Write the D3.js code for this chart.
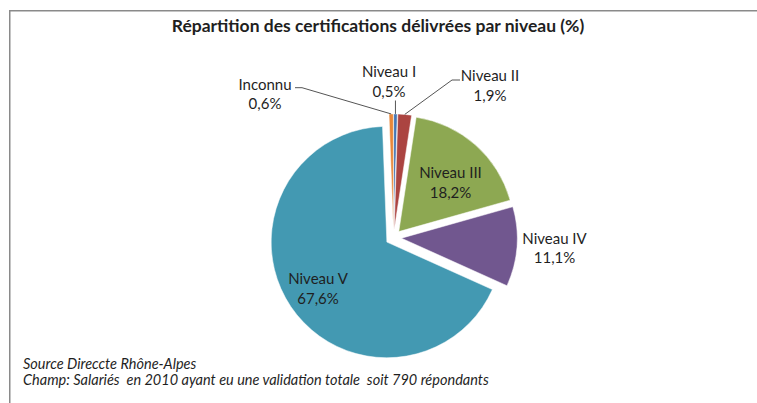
<!DOCTYPE html>
<html>
<head>
<meta charset="utf-8">
<script src="https://cdn.jsdelivr.net/npm/d3@7"></script>
<style>
  body { margin: 0; background: white; }
  text { font-family: Lato, "Liberation Sans", sans-serif; fill: #1f1f1f; }
</style>
</head>
<body>
<div id="container"></div>
<script>
// data, in Excel's order (clockwise from 12 o'clock)
const categories = ['Niveau I', 'Niveau II', 'Niveau III', 'Niveau IV', 'Niveau V', 'Inconnu']
const values = [0.5, 1.9, 18.2, 11.1, 67.6, 0.6]
const valueLabels = ['0,5%', '1,9%', '18,2%', '11,1%', '67,6%', '0,6%']
const colors = ['#4576b4', '#ab4441', '#8da852', '#71578f', '#4399b2', '#e8873a']

const titleText = 'Répartition des certifications délivrées par niveau (%)'
const footLines = [
  'Source Direccte Rhône-Alpes',
  'Champ: Salariés  en 2010 ayant eu une validation totale  soit 790 répondants'
]

// layout
const w = 757
const h = 403
const cx = 393.5
const cy = 237.6
const radius = 115.7
const explode = 8

// label centres (x, baseline of first line) and leader elbows
const labelLayout = {
  'Niveau I':   { x: 389, y: 77, outside: true, lineFrom: 'below' },
  'Niveau II':  { x: 490, y: 81, outside: true, elbow: [[460, 80], [452, 80]] },
  'Niveau III': { x: 450.5, y: 178 },
  'Niveau IV':  { x: 554.5, y: 243.5 },
  'Niveau V':   { x: 318, y: 284 },
  'Inconnu':    { x: 265, y: 89.5, outside: true, elbow: [[295, 87.7], [302, 87.7]] }
}
const lineGap = 19.5

const svg = d3.select('#container')
  .append('svg')
    .attr('width', w)
    .attr('height', h)
    .style('background', 'white')

// chart frame
svg.append('rect')
  .attr('x', 9.75)
  .attr('y', 10.75)
  .attr('width', 900)
  .attr('height', 600)
  .attr('fill', 'none')
  .attr('stroke', '#8a8a8a')
  .attr('stroke-width', 1.5)

svg.append('text')
  .attr('x', 378)
  .attr('y', 32)
  .attr('text-anchor', 'middle')
  .style('font-weight', 'bold')
  .style('font-size', '17.5px')
  .text(titleText)

const pie = d3.pie().sort(null).value(d => d.value)
const arcs = pie(categories.map((c, i) => ({ name: c, value: values[i], label: valueLabels[i], color: colors[i] })))

const arc = d3.arc().innerRadius(0).outerRadius(radius)

const midAngle = d => (d.startAngle + d.endAngle) / 2
const shift = d => [Math.sin(midAngle(d)) * explode, -Math.cos(midAngle(d)) * explode]

const g = svg.append('g').attr('transform', `translate(${cx}, ${cy})`)

g.selectAll('path')
  .data(arcs)
  .enter()
  .append('path')
    .attr('transform', d => `translate(${shift(d)[0]}, ${shift(d)[1]})`)
    .attr('d', arc)
    .attr('fill', d => d.data.color)
    .attr('stroke', 'white')
    .attr('stroke-width', 0.5)

// leader lines for the small slices
arcs.forEach(d => {
  const lay = labelLayout[d.data.name]
  if (!lay.outside) return
  const a = midAngle(d)
  const px = cx + Math.sin(a) * (radius + explode)
  const py = cy - Math.cos(a) * (radius + explode)
  let pts
  if (lay.lineFrom === 'below') {
    pts = [[px, lay.y + lineGap + 4], [px, py]]
  } else {
    pts = lay.elbow.concat([[px, py]])
  }
  svg.append('path')
    .attr('d', d3.line()(pts))
    .attr('fill', 'none')
    .attr('stroke', '#555')
    .attr('stroke-width', 1)
})

const labels = svg.selectAll('.slice-label')
  .data(arcs)
  .enter()
  .append('text')
    .attr('class', 'slice-label')
    .attr('text-anchor', 'middle')
    .style('font-size', '15px')

labels.append('tspan')
  .attr('x', d => labelLayout[d.data.name].x)
  .attr('y', d => labelLayout[d.data.name].y)
  .text(d => d.data.name)

labels.append('tspan')
  .attr('x', d => labelLayout[d.data.name].x)
  .attr('y', d => labelLayout[d.data.name].y + lineGap)
  .text(d => d.data.label)

svg.selectAll('.foot')
  .data(footLines)
  .enter()
  .append('text')
    .attr('class', 'foot')
    .attr('x', 23)
    .attr('y', (d, i) => 369 + i * 16)
    .style('font-style', 'italic')
    .style('font-size', '14.5px')
    .style('white-space', 'pre')
    .text(d => d)
</script>
</body>
</html>
